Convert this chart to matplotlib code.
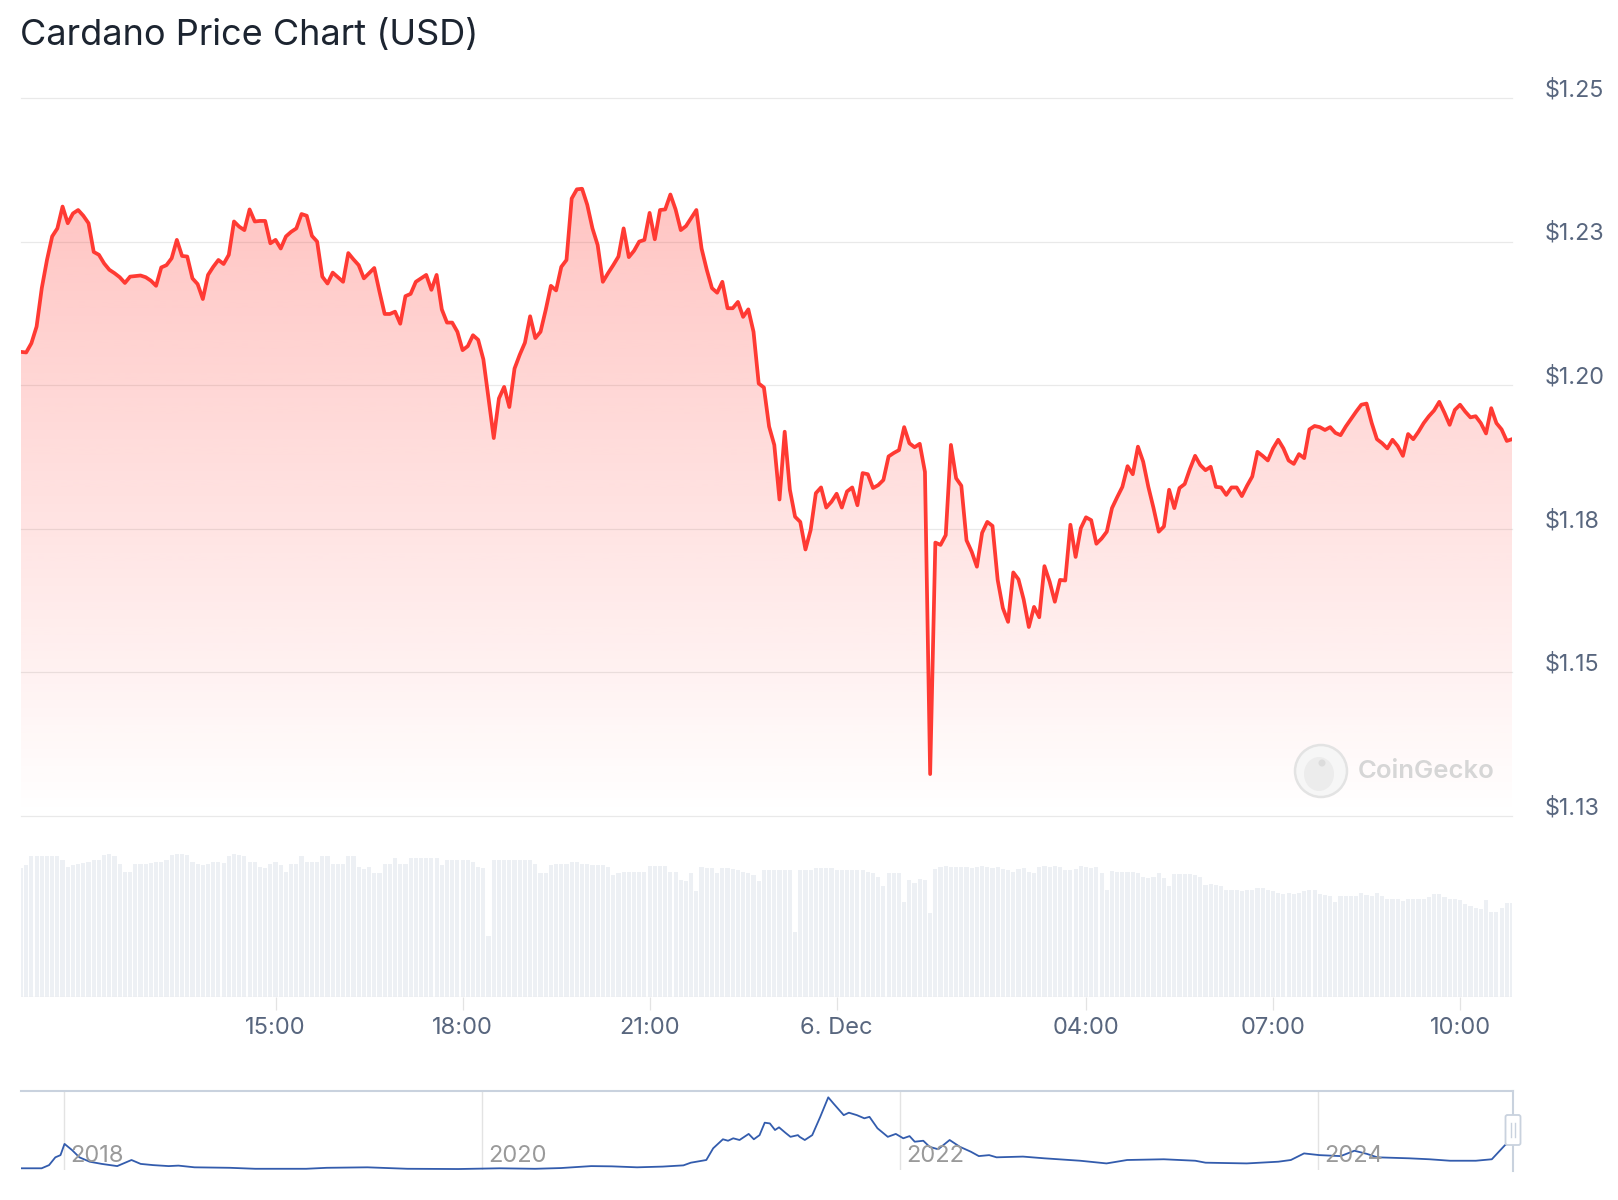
import numpy as np
import pandas as pd
import matplotlib
matplotlib.use("Agg")
import matplotlib.pyplot as plt
import matplotlib.dates as mdates
import matplotlib.transforms as mtransforms
from matplotlib.patches import Circle, Ellipse, FancyBboxPatch
from matplotlib.lines import Line2D

plt.rcParams['font.family'] = ['Inter', 'DejaVu Sans']

# ADA / USD, 5-minute points, 5 Dec 2024 10:55 -> 6 Dec 2024 10:50
prices = [
    1.2058, 1.2057, 1.2073, 1.2102, 1.2169, 1.2218, 1.2259, 1.2273, 1.2311, 1.2282, 1.2299, 1.2305,
    1.2295, 1.2282, 1.2232, 1.2227, 1.2212, 1.2201, 1.2195, 1.2188, 1.2178, 1.2189, 1.2190, 1.2191,
    1.2188, 1.2182, 1.2173, 1.2205, 1.2209, 1.2221, 1.2253, 1.2225, 1.2224, 1.2186, 1.2176, 1.2150,
    1.2192, 1.2206, 1.2218, 1.2211, 1.2227, 1.2285, 1.2276, 1.2270, 1.2306, 1.2285, 1.2286, 1.2286,
    1.2247, 1.2253, 1.2238, 1.2259, 1.2267, 1.2273, 1.2298, 1.2295, 1.2260, 1.2250, 1.2189, 1.2177,
    1.2196, 1.2188, 1.2180, 1.2230, 1.2219, 1.2209, 1.2186, 1.2195, 1.2204, 1.2163, 1.2124, 1.2124,
    1.2128, 1.2107, 1.2155, 1.2159, 1.2180, 1.2186, 1.2192, 1.2166, 1.2192, 1.2132, 1.2109, 1.2109,
    1.2093, 1.2061, 1.2068, 1.2087, 1.2079, 1.2045, 1.1977, 1.1908, 1.1977, 1.1997, 1.1962, 1.2029,
    1.2053, 1.2074, 1.2120, 1.2082, 1.2093, 1.2131, 1.2173, 1.2165, 1.2206, 1.2218, 1.2325, 1.2341,
    1.2342, 1.2314, 1.2273, 1.2244, 1.2180, 1.2195, 1.2209, 1.2224, 1.2273, 1.2223, 1.2234, 1.2250,
    1.2253, 1.2300, 1.2254, 1.2305, 1.2306, 1.2332, 1.2306, 1.2270, 1.2277, 1.2291, 1.2305, 1.2238,
    1.2201, 1.2169, 1.2161, 1.2180, 1.2134, 1.2134, 1.2145, 1.2119, 1.2132, 1.2093, 1.2003, 1.1996,
    1.1928, 1.1896, 1.1801, 1.1919, 1.1818, 1.1771, 1.1762, 1.1714, 1.1748, 1.1812, 1.1822, 1.1787,
    1.1797, 1.1811, 1.1787, 1.1815, 1.1822, 1.1791, 1.1847, 1.1845, 1.1821, 1.1826, 1.1835, 1.1876,
    1.1882, 1.1887, 1.1927, 1.1899, 1.1892, 1.1898, 1.1849, 1.1323, 1.1726, 1.1722, 1.1739, 1.1896,
    1.1838, 1.1825, 1.1730, 1.1710, 1.1684, 1.1743, 1.1762, 1.1755, 1.1661, 1.1612, 1.1588, 1.1674,
    1.1662, 1.1627, 1.1579, 1.1614, 1.1596, 1.1685, 1.1658, 1.1623, 1.1661, 1.1660, 1.1757, 1.1701,
    1.1751, 1.1770, 1.1765, 1.1724, 1.1733, 1.1745, 1.1786, 1.1805, 1.1823, 1.1859, 1.1845, 1.1893,
    1.1867, 1.1823, 1.1786, 1.1745, 1.1754, 1.1818, 1.1786, 1.1821, 1.1828, 1.1854, 1.1877, 1.1861,
    1.1852, 1.1858, 1.1823, 1.1822, 1.1809, 1.1822, 1.1822, 1.1807, 1.1825, 1.1841, 1.1884, 1.1877,
    1.1869, 1.1890, 1.1905, 1.1890, 1.1869, 1.1863, 1.1880, 1.1873, 1.1923, 1.1929, 1.1927, 1.1922,
    1.1927, 1.1917, 1.1913, 1.1928, 1.1941, 1.1954, 1.1966, 1.1968, 1.1934, 1.1906, 1.1899, 1.1890,
    1.1905, 1.1894, 1.1877, 1.1915, 1.1906, 1.1919, 1.1934, 1.1946, 1.1956, 1.1971, 1.1952, 1.1931,
    1.1957, 1.1966, 1.1954, 1.1944, 1.1946, 1.1934, 1.1916, 1.1960, 1.1934, 1.1923, 1.1903, 1.1906,
]

# 24h trading volume behind each point, billion USD
volumes = [
    1.58, 1.62, 1.73, 1.73, 1.73, 1.73, 1.73, 1.73, 1.69, 1.60, 1.62, 1.64,
    1.65, 1.66, 1.69, 1.68, 1.75, 1.76, 1.73, 1.64, 1.54, 1.54, 1.64, 1.64,
    1.64, 1.65, 1.66, 1.66, 1.69, 1.75, 1.76, 1.76, 1.75, 1.66, 1.64, 1.62,
    1.64, 1.66, 1.66, 1.65, 1.73, 1.76, 1.75, 1.73, 1.66, 1.66, 1.60, 1.58,
    1.64, 1.66, 1.62, 1.54, 1.64, 1.64, 1.73, 1.66, 1.66, 1.66, 1.73, 1.73,
    1.64, 1.64, 1.64, 1.73, 1.73, 1.60, 1.57, 1.60, 1.53, 1.52, 1.64, 1.64,
    1.71, 1.64, 1.64, 1.71, 1.71, 1.71, 1.71, 1.71, 1.71, 1.62, 1.69, 1.69,
    1.69, 1.69, 1.69, 1.66, 1.60, 1.58, 0.75, 1.68, 1.69, 1.69, 1.69, 1.69,
    1.69, 1.69, 1.68, 1.64, 1.52, 1.52, 1.62, 1.64, 1.64, 1.64, 1.66, 1.66,
    1.64, 1.64, 1.62, 1.62, 1.62, 1.60, 1.50, 1.52, 1.54, 1.54, 1.54, 1.54,
    1.54, 1.61, 1.61, 1.61, 1.61, 1.54, 1.54, 1.44, 1.42, 1.52, 1.30, 1.60,
    1.58, 1.58, 1.52, 1.58, 1.58, 1.57, 1.56, 1.54, 1.52, 1.50, 1.42, 1.56,
    1.56, 1.56, 1.56, 1.56, 1.56, 0.80, 1.56, 1.56, 1.56, 1.58, 1.58, 1.58,
    1.58, 1.56, 1.56, 1.56, 1.56, 1.56, 1.56, 1.54, 1.53, 1.48, 1.36, 1.52,
    1.53, 1.53, 1.17, 1.44, 1.40, 1.45, 1.44, 1.03, 1.57, 1.60, 1.61, 1.60,
    1.60, 1.60, 1.60, 1.58, 1.60, 1.61, 1.60, 1.58, 1.60, 1.57, 1.56, 1.54,
    1.57, 1.58, 1.54, 1.52, 1.60, 1.61, 1.60, 1.61, 1.60, 1.56, 1.56, 1.57,
    1.61, 1.60, 1.58, 1.60, 1.52, 1.32, 1.55, 1.54, 1.54, 1.54, 1.54, 1.53,
    1.48, 1.46, 1.48, 1.52, 1.46, 1.37, 1.51, 1.51, 1.51, 1.51, 1.50, 1.48,
    1.38, 1.39, 1.38, 1.36, 1.32, 1.31, 1.31, 1.30, 1.32, 1.32, 1.34, 1.34,
    1.32, 1.30, 1.28, 1.27, 1.28, 1.27, 1.28, 1.30, 1.32, 1.31, 1.27, 1.25,
    1.24, 1.17, 1.24, 1.24, 1.24, 1.24, 1.28, 1.25, 1.24, 1.28, 1.24, 1.21,
    1.21, 1.21, 1.18, 1.20, 1.21, 1.21, 1.21, 1.23, 1.27, 1.27, 1.23, 1.21,
    1.21, 1.19, 1.14, 1.12, 1.09, 1.08, 1.19, 1.04, 1.05, 1.09, 1.16, 1.16,
]

price_ticks = [1.25, 1.225, 1.20, 1.175, 1.15, 1.125]
price_labels = ["$1.25", "$1.23", "$1.20", "$1.18", "$1.15", "$1.13"]

time_ticks = ["2024-12-05 15:00", "2024-12-05 18:00", "2024-12-05 21:00",
              "2024-12-06 00:00", "2024-12-06 04:00", "2024-12-06 07:00",
              "2024-12-06 10:00"]
time_labels = ["15:00", "18:00", "21:00", "6. Dec", "04:00", "07:00", "10:00"]

# navigator: all-time price history
nav_dates = [
    "2017-10-19", "2017-11-23", "2017-12-06", "2017-12-17", "2017-12-26", "2018-01-02",
    "2018-01-15", "2018-01-28", "2018-02-15", "2018-03-08", "2018-04-04", "2018-04-18",
    "2018-04-29", "2018-05-15", "2018-06-06", "2018-07-03", "2018-07-20", "2018-08-17",
    "2018-10-18", "2018-12-01", "2019-02-28", "2019-04-05", "2019-06-15", "2019-08-24",
    "2019-11-21", "2020-02-01", "2020-04-03", "2020-05-18", "2020-07-10", "2020-08-15",
    "2020-09-28", "2020-11-12", "2020-12-18", "2020-12-31", "2021-01-27", "2021-02-08",
    "2021-02-25", "2021-03-06", "2021-03-15", "2021-03-26", "2021-04-11", "2021-04-20",
    "2021-04-30", "2021-05-09", "2021-05-18", "2021-05-27", "2021-06-03", "2021-06-14",
    "2021-06-23", "2021-07-06", "2021-07-09", "2021-07-18", "2021-07-31", "2021-08-14",
    "2021-08-28", "2021-09-06", "2021-09-24", "2021-10-03", "2021-10-17", "2021-10-30",
    "2021-11-08", "2021-11-22", "2021-12-10", "2021-12-24", "2022-01-06", "2022-01-17",
    "2022-01-26", "2022-02-10", "2022-02-21", "2022-03-08", "2022-03-28", "2022-04-15",
    "2022-05-04", "2022-05-18", "2022-06-05", "2022-06-18", "2022-08-03", "2022-09-09",
    "2022-11-11", "2022-12-27", "2023-02-01", "2023-04-06", "2023-05-31", "2023-06-18",
    "2023-08-29", "2023-10-23", "2023-11-14", "2023-12-07", "2024-01-03", "2024-02-09",
    "2024-03-04", "2024-03-26", "2024-04-13", "2024-06-07", "2024-07-13", "2024-08-18",
    "2024-10-02", "2024-10-30", "2024-11-22", "2024-12-06",
]
nav_prices = [
    0.07, 0.07, 0.20, 0.52, 0.61, 1.07,
    0.82, 0.52, 0.34, 0.25, 0.16, 0.30,
    0.41, 0.25, 0.20, 0.16, 0.18, 0.11,
    0.09, 0.05, 0.05, 0.09, 0.11, 0.05,
    0.04, 0.07, 0.05, 0.08, 0.16, 0.15,
    0.11, 0.14, 0.19, 0.30, 0.41, 0.89,
    1.26, 1.20, 1.30, 1.23, 1.48, 1.26,
    1.43, 1.94, 1.91, 1.64, 1.75, 1.53,
    1.36, 1.43, 1.36, 1.23, 1.43, 2.18,
    2.98, 2.73, 2.25, 2.35, 2.25, 2.12,
    2.18, 1.71, 1.36, 1.48, 1.30, 1.39,
    1.16, 1.20, 0.95, 0.85, 1.23, 0.95,
    0.75, 0.57, 0.61, 0.52, 0.55, 0.48,
    0.38, 0.27, 0.41, 0.44, 0.38, 0.30,
    0.27, 0.34, 0.41, 0.68, 0.61, 0.57,
    0.79, 0.66, 0.52, 0.48, 0.44, 0.38,
    0.38, 0.44, 1.02, 1.20,
]
nav_years = [2018, 2020, 2022, 2024]

W, H = 1618, 1200


def fx(px):
    return px / W


def fy(py):
    return 1 - py / H


times = pd.date_range("2024-12-05 10:55", periods=len(prices), freq="5min")
tnum = mdates.date2num(times)

fig = plt.figure(figsize=(W / 100, H / 100), dpi=100)
fig.patch.set_facecolor("white")

left, right = fx(21), fx(1512)
ax = fig.add_axes([left, fy(816), right - left, fy(98) - fy(816)])
axv = fig.add_axes([left, fy(997), right - left, fy(840) - fy(997)])
axn = fig.add_axes([left, fy(1170), fx(1513) - left, fy(1091) - fy(1170)])

fig.text(fx(20), fy(36), "Cardano Price Chart (USD)", fontsize=26,
         color="#1c2430", ha="left", va="center")

for a in (ax, axv, axn):
    for s in a.spines.values():
        s.set_visible(False)
    a.set_yticks([])
    a.set_facecolor("none")

# price panel
for v in price_ticks:
    ax.axhline(v, color="#e9e9e9", lw=0.9, zorder=0, clip_on=False)

fill = ax.fill_between(tnum, prices, 1.125, color="none", lw=0)
grad = np.zeros((256, 1, 4))
grad[..., 0] = 1.0
grad[..., 1] = 58 / 255
grad[..., 2] = 51 / 255
grad[..., 3] = np.linspace(0.30, 0.0, 256)[:, None]
im = ax.imshow(grad, extent=[tnum[0], tnum[-1], 1.125, max(prices)],
               aspect="auto", origin="upper", zorder=1, interpolation="bilinear")
im.set_clip_path(fill.get_paths()[0], transform=ax.transData)
ax.plot(tnum, prices, color="#ff3a33", lw=2.7, solid_joinstyle="round", zorder=3)
ax.set_xlim(tnum[0], tnum[-1])
ax.set_ylim(1.125, 1.25)
ax.set_xticks([])

lab_tr = mtransforms.blended_transform_factory(fig.transFigure, ax.transData) + \
    mtransforms.ScaledTranslation(0, 8 / 100, fig.dpi_scale_trans)
for v, s in zip(price_ticks, price_labels):
    fig.text(fx(1545), v, s, transform=lab_tr, fontsize=16.8, color="#58667e",
             ha="left", va="center")

# watermark
wm = fig.dpi_scale_trans
fig.patches.append(Circle((13.21, H / 100 - 7.71), 0.26, transform=wm,
                          facecolor="#f6f6f6", edgecolor="#e3e3e3", lw=1.8, zorder=5))
fig.patches.append(Ellipse((13.19, H / 100 - 7.74), 0.30, 0.34, transform=wm,
                           facecolor="#ececec", edgecolor="none", zorder=5))
fig.patches.append(Circle((13.22, H / 100 - 7.63), 0.035, transform=wm,
                          facecolor="#dcdcdc", edgecolor="none", zorder=6))
fig.text(fx(1358), fy(771), "CoinGecko", fontsize=18.5, fontweight="semibold",
         color="#d6d6d6", ha="left", va="center", zorder=6)

# volume panel
axv.bar(tnum, volumes, width=4 / 1440, color="#edf0f4", align="center", zorder=1)
axv.set_xlim(tnum[0], tnum[-1])
axv.set_ylim(0, 1.93)
tick_num = mdates.date2num(pd.to_datetime(time_ticks))
axv.set_xticks(tick_num)
axv.tick_params(axis="x", length=9.5, width=0.9, color="#e3e3e3",
                labelbottom=False)
axv.axhline(0, color="#e6e6e6", lw=0.9, zorder=2)

xl_tr = mtransforms.blended_transform_factory(axv.transData, fig.transFigure)
for t, s in zip(tick_num, time_labels):
    fig.text(t, fy(1028), s, transform=xl_tr, fontsize=17, color="#58667e",
             ha="center", va="center")

# navigator
nd = mdates.date2num(pd.to_datetime(nav_dates))
axn.set_xlim(mdates.date2num(pd.Timestamp("2017-10-18")),
             mdates.date2num(pd.Timestamp("2024-12-06")))
axn.set_ylim(0, 3.24)
axn.set_xticks([])
yr_tr = mtransforms.blended_transform_factory(axn.transData, fig.transFigure) + \
    mtransforms.ScaledTranslation(6 / 100, 0, fig.dpi_scale_trans)
for y in nav_years:
    yd = mdates.date2num(pd.Timestamp(f"{y}-01-01"))
    axn.axvline(yd, color="#e3e3e3", lw=1.0, zorder=0)
    axn.text(yd, fy(1156), str(y), transform=yr_tr, fontsize=17,
             color="#9a9a9a", ha="left", va="center", zorder=4)
axn.plot(nd, nav_prices, color="#335cad", lw=1.3, zorder=3)

outline = "#c9d2de"
fig.lines.append(Line2D([fx(21), fx(1513)], [fy(1091), fy(1091)],
                        transform=fig.transFigure, color=outline, lw=1.5))
fig.lines.append(Line2D([fx(1513), fx(1513)], [fy(1091), fy(1171)],
                        transform=fig.transFigure, color=outline, lw=1.5))
fig.patches.append(FancyBboxPatch((15.055, H / 100 - 11.45), 0.15, 0.30,
                                  boxstyle="round,pad=0,rounding_size=0.02",
                                  transform=wm, facecolor="white",
                                  edgecolor=outline, lw=1.3, zorder=6))
for hx in (15.11, 15.145):
    fig.lines.append(Line2D([hx, hx], [H / 100 - 11.37, H / 100 - 11.23],
                            transform=wm, color=outline, lw=1.0, zorder=7))

fig.savefig("out.png", dpi=100, facecolor="white")
